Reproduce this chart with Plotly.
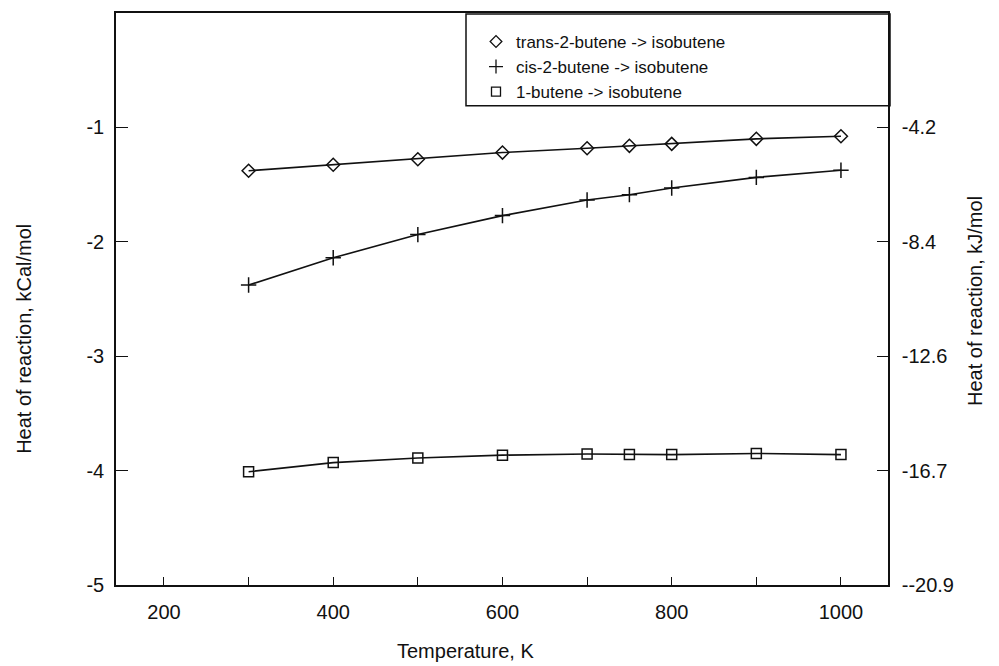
import plotly.graph_objects as go

# Data (kcal/mol)
temperature = [300, 400, 500, 600, 700, 750, 800, 900, 1000]
trans_2_butene = [-1.379, -1.327, -1.278, -1.220, -1.182, -1.161, -1.144, -1.100, -1.077]
cis_2_butene = [-2.378, -2.140, -1.937, -1.771, -1.635, -1.588, -1.530, -1.437, -1.374]
one_butene = [-4.01, -3.93, -3.89, -3.865, -3.855, -3.86, -3.86, -3.85, -3.86]

series_names = ["trans-2-butene -> isobutene", "cis-2-butene -> isobutene", "1-butene -> isobutene"]
series_values = [trans_2_butene, cis_2_butene, one_butene]
series_symbols = ["diamond-open", "cross-thin-open", "square-open"]
series_sizes = [10, 11, 10]

left_ticks = [-1, -2, -3, -4, -5]
left_tick_labels = ["-1", "-2", "-3", "-4", "-5"]
kcal_to_kj = 4.184
right_tick_labels = ["-4.2", "-8.4", "-12.6", "-16.7", "--20.9"]
x_ticks = [200, 400, 600, 800, 1000]

FONT = "Liberation Sans, Arial, sans-serif"
BLACK = "#111111"

# The page has an 8px body margin, so figure pixels are offset by 8 px.
OFF = 8
W, H = 999 - OFF, 666 - OFF
PL, PR, PT, PB = 116 - OFF, 888 - OFF, 11 - OFF, 585 - OFF  # plot box in figure px
PW, PH = PR - PL, PB - PT


def px(xp):  # page x -> paper
    return (xp - OFF - PL) / PW


def py(yp):  # page y -> paper
    return (PB - (yp - OFF)) / PH


fig = go.Figure()
for name, vals, sym, sz in zip(series_names, series_values, series_symbols, series_sizes):
    fig.add_trace(go.Scatter(
        x=temperature, y=vals, mode="lines+markers", showlegend=False,
        line=dict(color=BLACK, width=1.6),
        marker=dict(symbol=sym, size=sz, color=BLACK, line=dict(width=1.5, color=BLACK)),
    ))
for name, sym, sz in zip(series_names, series_symbols, series_sizes):
    fig.add_trace(go.Scatter(
        x=[None], y=[None], mode="markers", name=name,
        marker=dict(symbol=sym, size=sz - 1, color=BLACK, line=dict(width=1.3, color=BLACK)),
    ))

# invisible trace to activate right axis
fig.add_trace(go.Scatter(x=[None], y=[None], yaxis="y2", showlegend=False, hoverinfo="skip"))

fig.update_layout(
    width=W, height=H,
    margin=dict(l=PL, r=W - PR, t=PT, b=H - PB),
    paper_bgcolor="white", plot_bgcolor="white",
    font=dict(family=FONT, size=20, color=BLACK),
    showlegend=True,
    legend=dict(
        x=px(476), y=py(22), xanchor="left", yanchor="top",
        bgcolor="rgba(0,0,0,0)", borderwidth=0,
        font=dict(family=FONT, size=17, color=BLACK),
        itemclick=False, tracegroupgap=0,
    ),
    xaxis=dict(
        range=[143.3, 1055.6], tickvals=x_ticks, ticks="inside", ticklen=8,
        tickcolor=BLACK, tickwidth=1.2,
        minor=dict(dtick=100, tick0=0, ticks="inside", ticklen=8, tickcolor=BLACK, tickwidth=1.2),
        showline=True, linecolor=BLACK, linewidth=1.5, mirror=True,
        showgrid=False, zeroline=False, ticklabelstandoff=8,
        tickfont=dict(size=20),
    ),
    yaxis=dict(
        range=[-5, 0], tickvals=left_ticks, ticktext=left_tick_labels,
        ticks="inside", ticklen=12, tickcolor=BLACK, tickwidth=1.2,
        showline=True, linecolor=BLACK, linewidth=1.5,
        showgrid=False, zeroline=False, ticklabelstandoff=6,
        tickfont=dict(size=20),
    ),
    yaxis2=dict(
        overlaying="y", side="right",
        range=[-5 * kcal_to_kj, 0],
        tickvals=[t * kcal_to_kj for t in left_ticks], ticktext=right_tick_labels,
        ticks="inside", ticklen=11, tickcolor=BLACK, tickwidth=1.2,
        showline=True, linecolor=BLACK, linewidth=1.5,
        showgrid=False, zeroline=False, ticklabelstandoff=8,
        tickfont=dict(size=20),
    ),
    shapes=[dict(
        type="rect", xref="paper", yref="paper",
        x0=px(466), x1=px(890), y0=py(104), y1=py(12),
        line=dict(color=BLACK, width=1.5), fillcolor="rgba(0,0,0,0)", layer="above",
    )],
    annotations=[
        dict(text="Temperature, K", xref="paper", yref="paper",
             x=px(465), y=py(651), xanchor="center", yanchor="middle",
             showarrow=False, font=dict(size=20)),
        dict(text="Heat of reaction, kCal/mol", xref="paper", yref="paper",
             x=px(24), y=py(338), xanchor="center", yanchor="middle",
             textangle=-90, showarrow=False, font=dict(size=20)),
        dict(text="Heat of reaction, kJ/mol", xref="paper", yref="paper",
             x=px(975), y=py(300), xanchor="center", yanchor="middle",
             textangle=-90, showarrow=False, font=dict(size=20)),
    ],
)

fig.write_html("out.html")
